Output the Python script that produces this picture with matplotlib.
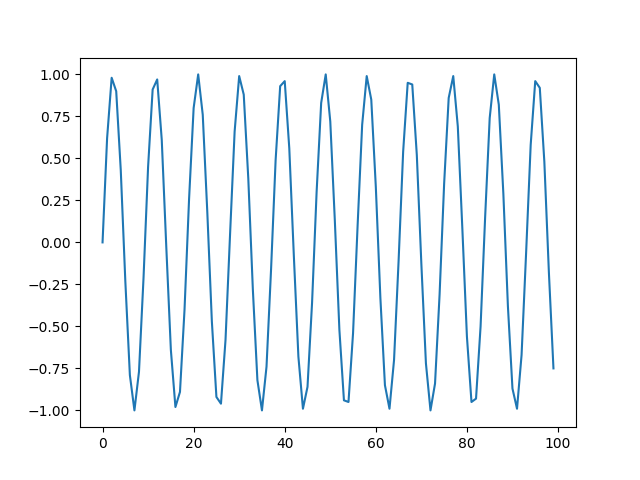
import matplotlib
matplotlib.use("Agg")
import matplotlib.pyplot as plt

# values, one per integer step 0..99
y_values = [
    0.00, 0.62, 0.98, 0.90, 0.43, -0.23, -0.79, -1.00, -0.77, -0.21,
    0.45, 0.91, 0.97, 0.61, -0.03, -0.64, -0.98, -0.89, -0.40, 0.26,
    0.80, 1.00, 0.76, 0.18, -0.47, -0.92, -0.96, -0.58, 0.05, 0.66,
    0.99, 0.88, 0.38, -0.28, -0.82, -1.00, -0.74, -0.16, 0.49, 0.93,
    0.96, 0.56, -0.08, -0.68, -0.99, -0.86, -0.36, 0.30, 0.83, 1.00,
    0.72, 0.13, -0.52, -0.94, -0.95, -0.54, 0.10, 0.70, 0.99, 0.85,
    0.33, -0.33, -0.85, -0.99, -0.70, -0.11, 0.54, 0.95, 0.94, 0.52,
    -0.13, -0.72, -1.00, -0.84, -0.31, 0.35, 0.86, 0.99, 0.69, 0.08,
    -0.56, -0.95, -0.93, -0.50, 0.15, 0.74, 1.00, 0.82, 0.29, -0.38,
    -0.87, -0.99, -0.67, -0.06, 0.58, 0.96, 0.92, 0.48, -0.18, -0.75,
]

fig, ax = plt.subplots(figsize=(6.4, 4.8), dpi=100)
ax.plot(y_values)
plt.savefig("out.png")
plt.close()
